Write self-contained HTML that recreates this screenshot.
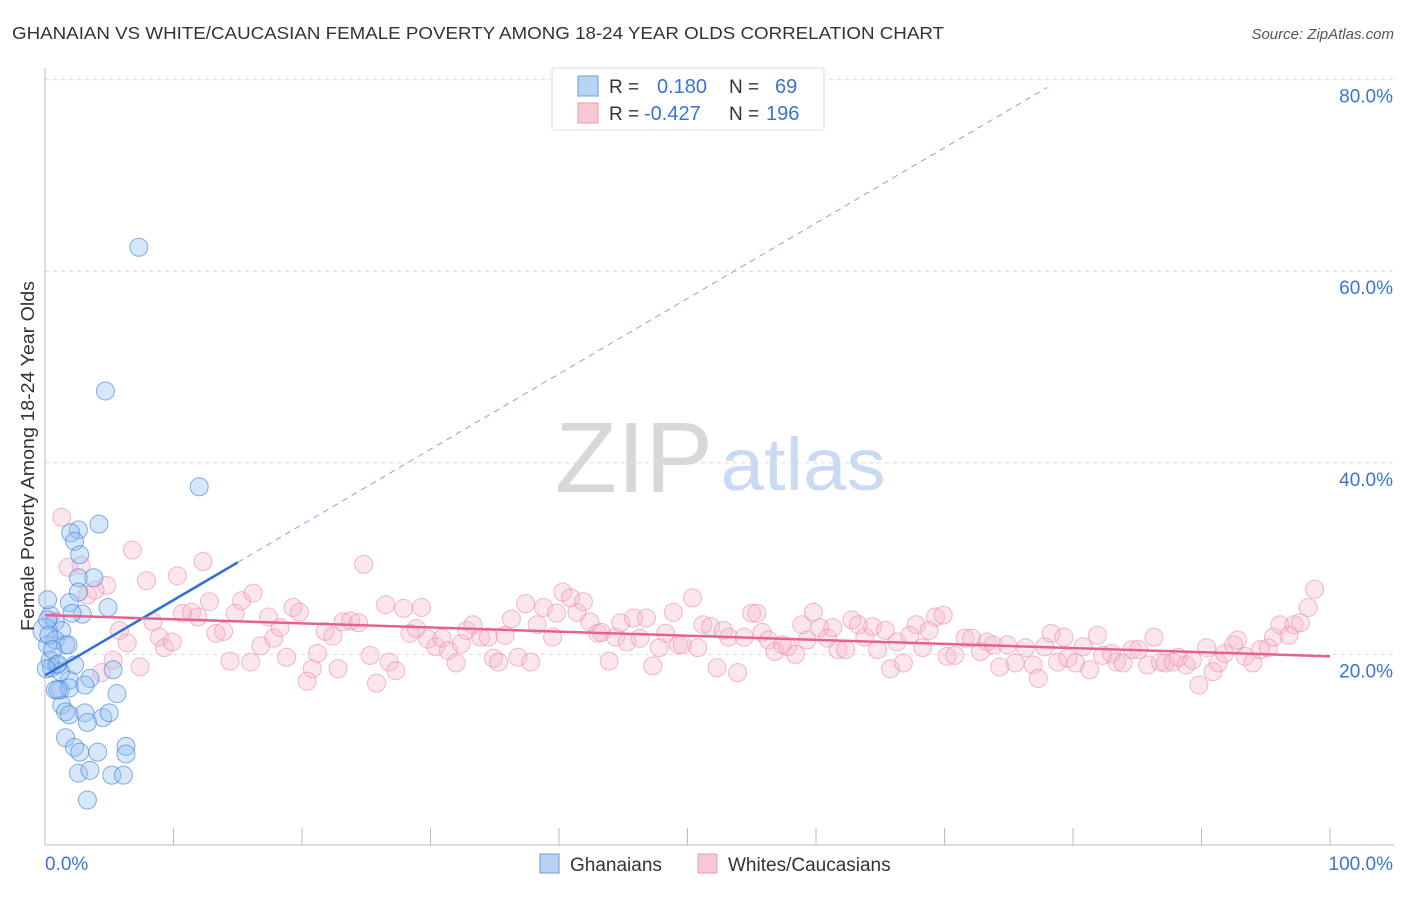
<!DOCTYPE html>
<html><head><meta charset="utf-8"><style>
body{margin:0;background:#fff;font-family:"Liberation Sans",sans-serif;}
svg text{font-family:"Liberation Sans",sans-serif;}
</style></head><body>
<svg id="chart" width="1406" height="892" viewBox="0 0 1406 892" xmlns="http://www.w3.org/2000/svg">
<text x="12" y="39" font-size="17.5" fill="#333" textLength="932" lengthAdjust="spacingAndGlyphs">GHANAIAN VS WHITE/CAUCASIAN FEMALE POVERTY AMONG 18-24 YEAR OLDS CORRELATION CHART</text>
<text x="1394" y="39" font-size="15" fill="#555" text-anchor="end" font-style="italic">Source: ZipAtlas.com</text>
<g>
<text x="634" y="492" font-size="100" fill="#d8d8d8" text-anchor="middle" font-family="Liberation Serif, serif" textLength="158" lengthAdjust="spacingAndGlyphs">ZIP</text>
<text x="803" y="490" font-size="74" fill="#c9daf2" text-anchor="middle" textLength="165" lengthAdjust="spacingAndGlyphs">atlas</text>
</g>
<g id="grid"></g>
<g id="axes"></g>
<g id="pink"></g>
<g id="blue"></g>
<g id="trends"></g>
<text transform="translate(34,456) rotate(-90)" font-size="18" fill="#333" text-anchor="middle" textLength="350" lengthAdjust="spacingAndGlyphs">Female Poverty Among 18-24 Year Olds</text>
<g>
<rect x="552" y="68" width="272" height="62" fill="#fff" stroke="#ddd"/>
<rect x="578" y="76" width="20" height="20" fill="#b9d3f5" stroke="#6a9ee0"/>
<rect x="578" y="103" width="20" height="20" fill="#f9c6d4" stroke="#ec9ab3"/>
<text x="609" y="93" font-size="19" fill="#333">R =</text>
<text x="657" y="93" font-size="20" fill="#3a74d1">0.180</text>
<text x="729" y="93" font-size="19" fill="#333">N =</text>
<text x="775" y="93" font-size="20" fill="#3a74d1">69</text>
<text x="609" y="120" font-size="19" fill="#333">R =</text>
<text x="644" y="120" font-size="20" fill="#3a74d1">-0.427</text>
<text x="729" y="120" font-size="19" fill="#333">N =</text>
<text x="766" y="120" font-size="20" fill="#3a74d1">196</text>
</g>
<g>
<rect x="540" y="854" width="19" height="19" fill="#b9d3f5" stroke="#6a9ee0"/>
<text x="570" y="871" font-size="19" fill="#333">Ghanaians</text>
<rect x="698" y="854" width="19" height="19" fill="#f9c6d4" stroke="#ec9ab3"/>
<text x="728" y="871" font-size="19" fill="#333">Whites/Caucasians</text>
</g>
</svg>
<script>
const yTicks = [20, 40, 60, 80];
const yTickLabels = ["20.0%", "40.0%", "60.0%", "80.0%"];
const xTickValues = [0,10,20,30,40,50,60,70,80,90,100];
const xEndLabels = ["0.0%", "100.0%"];
const blueX = [7.3,4.7,12.0,4.2,2.6,2.0,2.3,2.7,2.6,3.8,2.6,1.9,4.9,2.9,2.1,0.4,0.8,0,1.3,0.8,1.6,1.8,0.2,0.9,0.5,2.3,5.3,1.9,3.5,1.2,0.8,1.9,3.1,5.6,1.3,1.6,1.9,3.1,4.5,5.0,3.3,1.6,2.3,2.7,4.1,6.3,6.3,2.6,3.5,5.2,6.1,3.3,0.2,0.4,1.2,1.0,0.2,0.3,0.6,1.0,0.1];
const blueY = [62.5,47.5,37.5,33.6,33.0,32.7,31.8,30.4,28.0,28.0,26.5,25.4,24.9,24.2,24.3,24.1,23.4,22.5,22.5,21.5,21.0,21.0,21.0,18.9,18.6,18.9,18.4,17.3,17.5,16.3,16.3,16.5,16.8,15.9,14.7,14.0,13.7,13.9,13.4,13.9,12.9,11.3,10.3,9.8,9.8,10.4,9.6,7.6,7.9,7.4,7.4,4.8,23.6,19.4,18.2,16.3,25.7,22.0,20.5,19.0,18.5];
const pinkX = [1.3,1.8,2.8,4.8,3.3,3.9,6.8,7.9,5.8,6.4,4.4,7.4,5.3,10.3,12.3,8.4,8.9,9.3,9.9,10.7,11.4,11.9,12.8,13.3,13.9,14.4,14.8,15.3,16.2,16.0,16.8,17.4,17.8,18.3,18.8,19.3,19.8,20.8,20.4,21.2,21.8,22.4,22.8,23.2,23.8,24.4,24.8,25.3,25.8,26.5,26.8,27.3,27.9,28.4,28.9,29.3,29.8,30.4,30.9,31.4,32.0,32.4,32.8,33.3,33.9,34.5,34.9,35.3,35.8,36.3,36.8,37.4,37.8,38.3,38.8,39.5,39.8,40.3,40.9,41.4,41.9,42.4,43.0,43.3,43.9,44.4,44.8,45.3,45.8,46.3,46.8,47.3,47.8,48.3,48.9,49.3,49.6,50.4,50.8,51.2,51.8,52.3,52.8,53.2,53.9,54.4,55.0,55.4,55.8,56.3,56.8,57.4,57.8,58.4,58.9,59.3,59.8,60.3,60.9,61.3,61.7,62.3,62.8,63.3,63.8,64.4,64.8,65.4,65.8,66.3,66.8,67.3,67.8,68.3,68.8,69.3,69.9,70.2,70.8,71.6,72.1,72.8,73.3,73.8,74.3,74.9,75.5,76.3,76.9,77.3,77.8,78.3,78.8,79.3,79.6,80.2,80.8,81.3,81.9,82.3,83.0,83.4,83.9,84.6,85.1,85.8,86.3,86.8,87.2,87.8,88.2,88.8,89.3,89.8,90.4,90.9,91.3,91.8,92.5,92.8,93.4,94.0,94.6,95.2,95.6,96.1,96.8,97.2,97.7,98.3,98.8];
const pinkY = [34.3,29.1,29.3,27.2,26.2,26.7,30.9,27.7,22.5,21.2,18.1,18.7,19.4,28.2,29.7,23.4,21.8,20.7,21.3,24.3,24.4,23.9,25.5,22.2,22.4,19.3,24.3,25.6,26.4,19.2,20.9,23.9,21.7,22.8,19.7,24.9,24.4,18.5,17.2,20.1,22.4,21.9,18.5,23.4,23.5,23.3,29.4,19.9,17.0,25.2,19.2,18.3,24.8,22.2,22.7,24.9,21.6,20.8,21.7,20.4,19.1,21.1,22.5,23.1,21.8,21.8,19.6,19.2,22.0,23.7,19.7,25.3,19.2,23.1,24.9,21.8,24.3,26.5,25.9,24.4,25.5,23.4,22.2,22.3,19.3,21.8,23.3,21.3,23.8,21.7,23.8,18.8,20.7,22.2,24.4,21.0,21.0,25.9,20.7,23.1,22.9,18.6,22.5,21.8,18.1,21.8,24.3,24.3,22.3,21.5,20.3,21.0,20.8,20.0,23.1,21.5,24.4,22.8,21.7,22.8,20.5,20.5,23.6,23.1,21.8,22.9,20.5,22.5,18.5,21.3,19.1,22.0,23.1,20.7,22.5,23.9,24.1,19.8,19.9,21.7,21.7,20.3,21.3,21.0,18.7,21.0,19.1,20.7,18.9,17.5,20.8,22.2,19.2,21.8,19.6,19.1,20.8,18.4,22.0,19.9,20.1,19.2,19.1,20.5,20.5,18.9,21.8,19.2,19.1,19.2,19.7,18.9,19.4,16.8,20.7,18.2,19.1,20.1,21.0,21.5,19.8,19.1,20.5,20.7,21.8,23.1,22.0,23.1,23.3,24.9,26.8];
const blueTrend = {a:17.8, b:0.787, solidEnd:15, dashEnd:78};
const pinkTrend = {a:24.1, b:-0.043};

const NS="http://www.w3.org/2000/svg";
const X0=45,X1=1330,Y0=846,PXP=9.58;
const sx=v=>X0+(X1-X0)*v/100;
const sy=v=>Y0-v*PXP;
function mk(tag,attrs,parent){const e=document.createElementNS(NS,tag);for(const k in attrs)e.setAttribute(k,attrs[k]);parent.appendChild(e);return e;}
const grid=document.getElementById('grid'),axes=document.getElementById('axes');
yTicks.forEach((t,i)=>{
  const l=mk('line',{x1:X0,x2:1394,y1:sy(t),y2:sy(t),stroke:'#dcdcdc','stroke-dasharray':'4,4'},grid);
  
  
  const tx=mk('text',{x:1393,y:sy(t)+23,'font-size':19,fill:'#3a74d1','text-anchor':'end'},axes);
  tx.textContent=yTickLabels[i];
  
  
});
const ya=mk('line',{x1:X0,x2:X0,y1:68,y2:845,stroke:'#bbb'},axes);


const xa=mk('line',{x1:X0,x2:1394,y1:845,y2:845,stroke:'#bbb'},axes);


xTickValues.forEach(v=>{
  const t=mk('line',{x1:sx(v),x2:sx(v),y1:828,y2:845,stroke:'#bbb'},axes);
  
  
});
const xl0=mk('text',{x:45,y:870,'font-size':19,fill:'#3a74d1'},axes);xl0.textContent=xEndLabels[0];


const xl1=mk('text',{x:1393,y:870,'font-size':19,fill:'#3a74d1','text-anchor':'end'},axes);xl1.textContent=xEndLabels[1];



const pg=document.getElementById('pink');
pinkX.forEach((x,i)=>{
  const c=mk('circle',{cx:sx(x),cy:sy(pinkY[i]),r:9,fill:'rgba(247,180,203,0.33)',stroke:'rgba(232,140,170,0.6)','stroke-width':1},pg);
  
  
});
const bg=document.getElementById('blue');
blueX.forEach((x,i)=>{
  const c=mk('circle',{cx:sx(x),cy:sy(blueY[i]),r:(x===0?12:9),fill:'rgba(150,192,242,0.38)',stroke:'rgba(70,130,215,0.65)','stroke-width':1},bg);
  
  
});
const tg=document.getElementById('trends');
const bt=blueTrend,f=x=>bt.a+bt.b*x;
const l1=mk('line',{x1:sx(0),y1:sy(f(0)),x2:sx(bt.solidEnd),y2:sy(f(bt.solidEnd)),stroke:'#2f6fd6','stroke-width':2.5},tg);


const l2=mk('line',{x1:sx(bt.solidEnd),y1:sy(f(bt.solidEnd)),x2:sx(bt.dashEnd),y2:sy(f(bt.dashEnd)),stroke:'#7fa6e3','stroke-width':1,'stroke-dasharray':'6,5'},tg);


const pt=pinkTrend;
const l3=mk('line',{x1:sx(0),y1:sy(pt.a),x2:sx(100),y2:sy(pt.a+pt.b*100),stroke:'#e5628d','stroke-width':2.5},tg);


</script>
</body></html>
